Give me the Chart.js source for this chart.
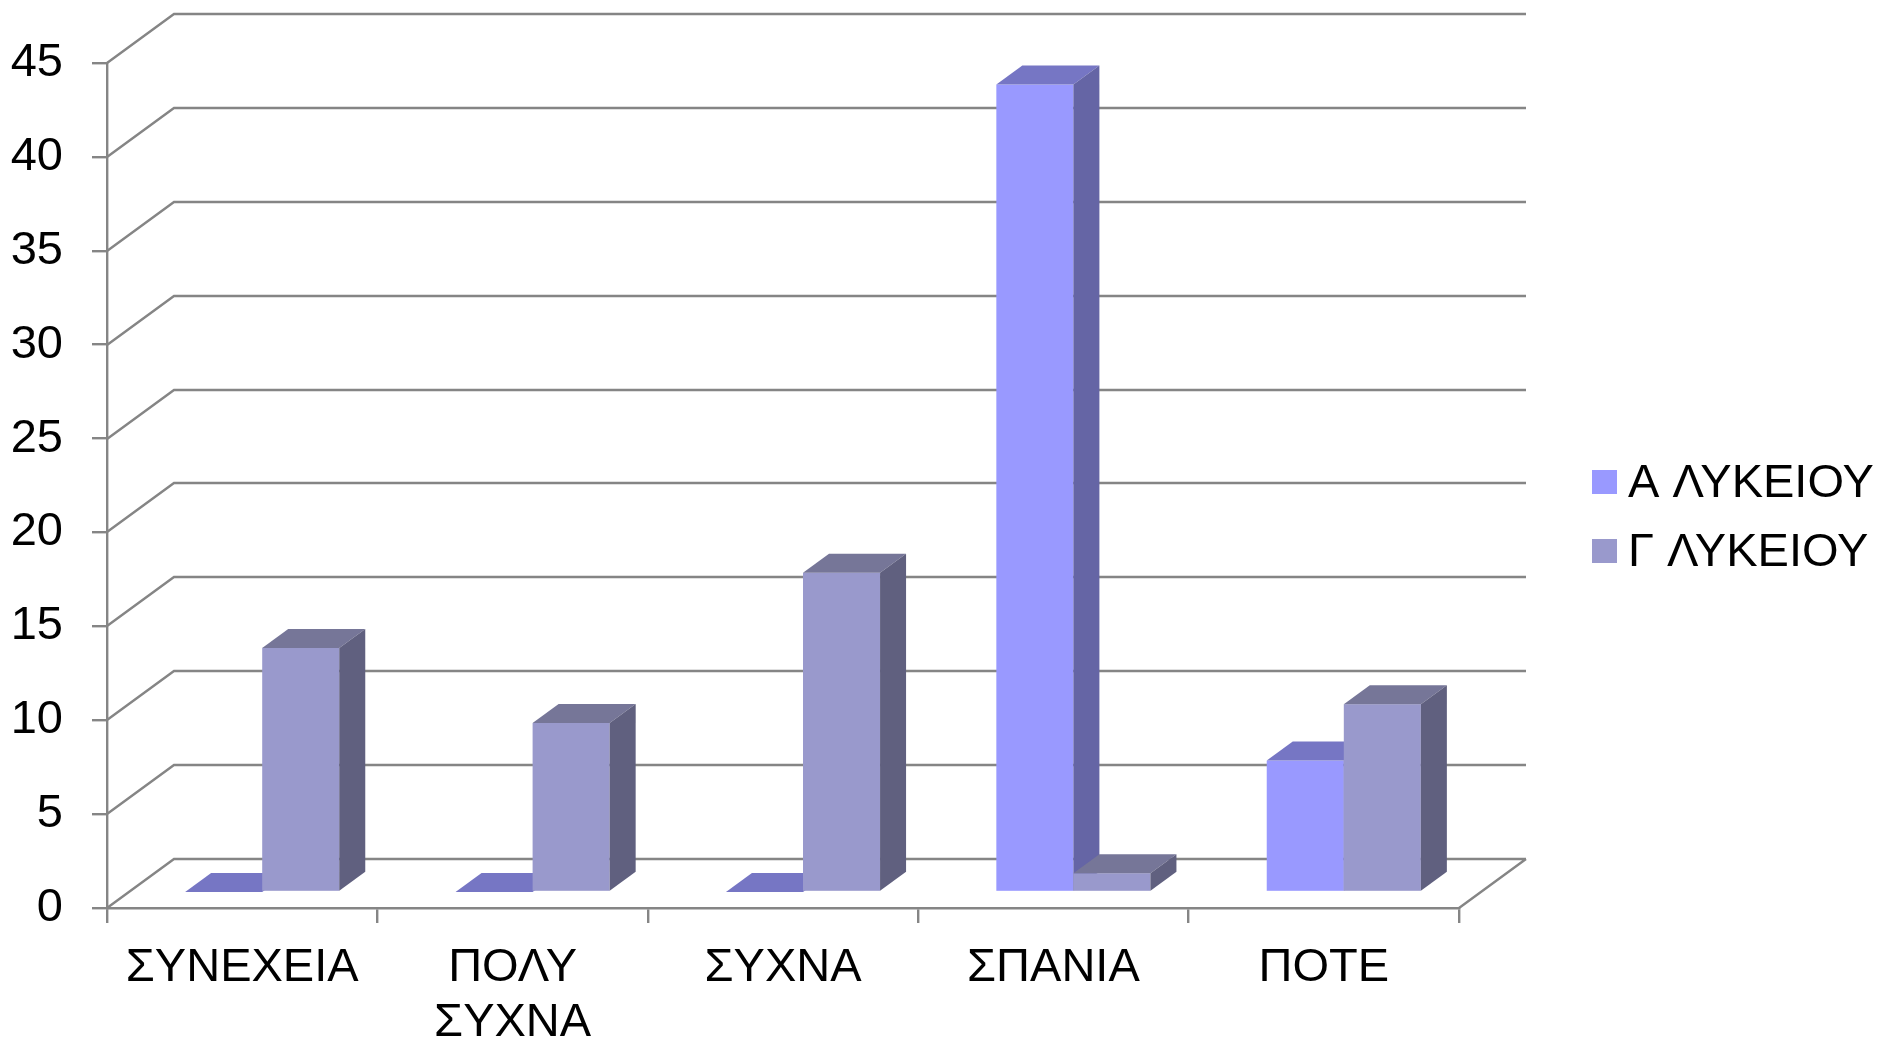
<!DOCTYPE html>
<html>
<head>
<meta charset="utf-8">
<script src="https://cdn.jsdelivr.net/npm/chart.js@4/dist/chart.umd.min.js"></script>
<style>
    body { margin: 0; background: #fff; }
    canvas { display: block; }
</style>
</head>
<body>
<canvas id="chart" width="1877" height="1039"></canvas>
<script>
const categories = ['ΣΥΝΕΧΕΙΑ', ['ΠΟΛΥ', 'ΣΥΧΝΑ'], 'ΣΥΧΝΑ', 'ΣΠΑΝΙΑ', 'ΠΟΤΕ'];
const seriesNames = ['Α ΛΥΚΕΙΟΥ', 'Γ ΛΥΚΕΙΟΥ'];
const aLykeiou = [0, 0, 0, 43, 7];
const gLykeiou = [13, 9, 17, 1, 10];
const yMax = 45;
const yStep = 5;

// face colours for each series: front, top, side
const faceColors = [
    { front: '#9999FF', top: '#7676C4', side: '#6565A5' },
    { front: '#9999CC', top: '#767698', side: '#60607F' }
];

const gridColor = '#858585';
const fontFamily = "'Liberation Sans', Arial, sans-serif";

// depth of the walls, and where the bars sit inside it
const wallDx = 67, wallDy = -49;
const barShiftX = 20, barShiftY = -16;
const barDx = 26, barDy = -19;

const wallsAndBars = {
    id: 'wallsAndBars',
    beforeDatasetsDraw(chart) {
        const ctx = chart.ctx;
        const area = chart.chartArea;
        const yScale = chart.scales.y;

        // back wall lines plus the slanted lines on the left side wall
        ctx.save();
        ctx.strokeStyle = gridColor;
        ctx.lineWidth = 2.4;
        ctx.lineJoin = 'miter';
        ctx.beginPath();
        yScale.ticks.forEach(t => {
            let y = Math.round(yScale.getPixelForValue(t.value));
            ctx.moveTo(area.left, y);
            ctx.lineTo(area.left + wallDx, y + wallDy);
            ctx.lineTo(area.right + wallDx, y + wallDy);
        });
        let y0 = Math.round(yScale.getPixelForValue(0));
        ctx.moveTo(area.right, y0);
        ctx.lineTo(area.right + wallDx, y0 + wallDy);
        ctx.stroke();

        // bars, category by category so the nearer faces cover the hidden ones
        let metas = chart.data.datasets.map((d, i) => chart.getDatasetMeta(i));
        for (let j = 0; j < chart.data.labels.length; j++) {
            metas.forEach((meta, i) => {
                let bar = meta.data[j];
                let c = faceColors[i];
                let left = bar.x - bar.width / 2 + barShiftX;
                let right = bar.x + bar.width / 2 + barShiftX;
                let top = bar.y + barShiftY;
                let bottom = bar.base + barShiftY;

                ctx.fillStyle = c.front;
                ctx.fillRect(left, top, right - left, bottom - top);

                ctx.fillStyle = c.top;
                ctx.beginPath();
                ctx.moveTo(left, top);
                ctx.lineTo(right, top);
                ctx.lineTo(right + barDx, top + barDy);
                ctx.lineTo(left + barDx, top + barDy);
                ctx.closePath();
                ctx.fill();

                if (bottom - top > 0.5) {
                    ctx.fillStyle = c.side;
                    ctx.beginPath();
                    ctx.moveTo(right, top);
                    ctx.lineTo(right + barDx, top + barDy);
                    ctx.lineTo(right + barDx, bottom + barDy);
                    ctx.lineTo(right, bottom);
                    ctx.closePath();
                    ctx.fill();
                }
            });
        }
        ctx.restore();
        return false;
    },
    afterDraw(chart) {
        // legend on the right
        const ctx = chart.ctx;
        ctx.save();
        ctx.font = '47px ' + fontFamily;
        ctx.textBaseline = 'middle';
        chart.data.datasets.forEach((d, i) => {
            let cy = 482 + i * 69;
            ctx.fillStyle = d.backgroundColor;
            ctx.fillRect(1592, cy - 12, 25, 24);
            ctx.fillStyle = '#000';
            ctx.fillText(d.label, 1628, cy + 2);
        });
        ctx.restore();
    }
};

const ctx = document.getElementById('chart').getContext('2d');
const chart = new Chart(ctx, {
    type: 'bar',
    data: {
        labels: categories,
        datasets: [
            { label: seriesNames[0], data: aLykeiou, backgroundColor: faceColors[0].front },
            { label: seriesNames[1], data: gLykeiou, backgroundColor: faceColors[1].front }
        ]
    },
    options: {
        responsive: false,
        animation: false,
        devicePixelRatio: 1,
        layout: { padding: { top: 63, right: 418, bottom: 0, left: 0 } },
        datasets: {
            bar: { categoryPercentage: 0.57, barPercentage: 1.0 }
        },
        plugins: {
            legend: { display: false },
            tooltip: { enabled: false }
        },
        scales: {
            x: {
                offset: true,
                grid: {
                    offset: true,
                    drawOnChartArea: false,
                    drawTicks: true,
                    tickLength: 15,
                    color: gridColor,
                    lineWidth: 2.4
                },
                border: { display: true, color: gridColor, width: 2.4 },
                ticks: {
                    color: '#000',
                    padding: 18,
                    maxRotation: 0,
                    autoSkip: false,
                    font: { family: fontFamily, size: 47, lineHeight: 1.165 }
                },
                afterFit(scale) { scale.height = 1039 - 908; }
            },
            y: {
                min: 0,
                max: yMax,
                ticks: {
                    stepSize: yStep,
                    color: '#000',
                    padding: 29,
                    font: { family: fontFamily, size: 47 }
                },
                grid: {
                    drawOnChartArea: false,
                    drawTicks: true,
                    tickLength: 15,
                    color: gridColor,
                    lineWidth: 2.4
                },
                border: { display: true, color: gridColor, width: 2.4 },
                afterFit(scale) { scale.width = 107; }
            }
        }
    },
    plugins: [wallsAndBars]
});
</script>
</body>
</html>
